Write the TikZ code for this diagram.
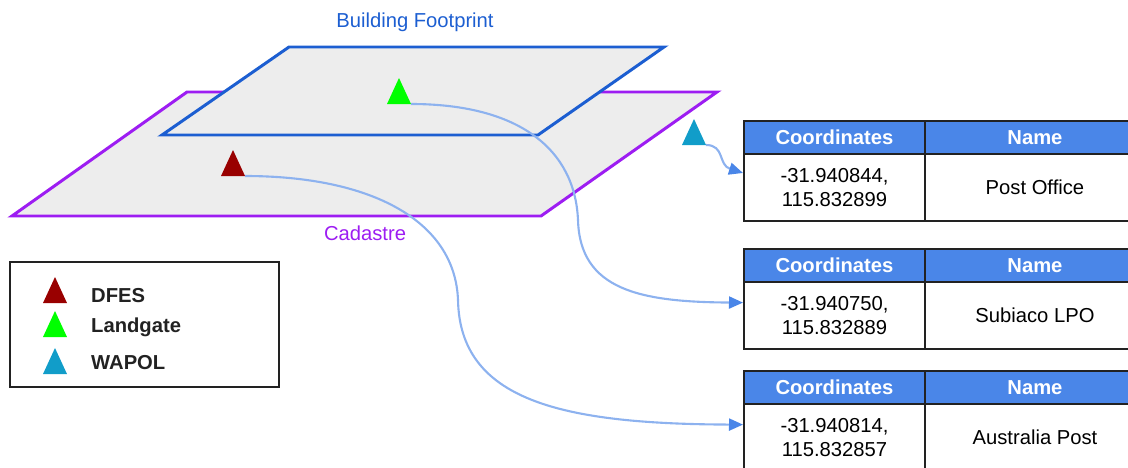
\documentclass[tikz,border=0pt]{standalone}
\usepackage{fontspec}
\setmainfont{Liberation Sans}
\usetikzlibrary{arrows.meta}

\definecolor{footblue}{HTML}{1C5ED1}
\definecolor{cadpurple}{HTML}{9D1DF2}
\definecolor{planegray}{HTML}{EDEDED}
\definecolor{dfesred}{HTML}{990000}
\definecolor{landgreen}{HTML}{00FF00}
\definecolor{wapolcyan}{HTML}{119DC9}
\definecolor{headblue}{HTML}{4A86E8}
\definecolor{linkblue}{HTML}{8DB2EF}
\definecolor{tableline}{HTML}{222222}

\tikzset{
	tri/.pic={\path[pic actions] (-0.24,0) -- (0.24,0) -- (0,0.52) -- cycle;
		\coordinate (-foot) at (0.24,0);},
	head/.style={draw=tableline, fill=headblue, text=white, font=\fontsize{11.5}{13.5}\selectfont\bfseries,
		minimum height=0.66cm, anchor=north west, inner sep=0pt, line width=1.1pt},
	cell/.style={draw=tableline, minimum height=1.34cm, anchor=north west, inner sep=0pt,
		align=center, line width=1.1pt},
	link/.style={draw=linkblue, line width=1.2pt, -{Triangle[length=0.28cm, width=0.24cm, color=headblue]}}
}

\begin{document}
\begin{tikzpicture}[font=\fontsize{11.5}{13.5}\selectfont]

	\useasboundingbox (0,0) rectangle (22.56,9.34);
	\clip (0,0) rectangle (22.56,9.34);

	% cadastre plane
	\draw[cadpurple, fill=planegray, line width=1.7pt] (3.74,7.50) -- (14.34,7.50) -- (10.82,5.02) -- (0.24,5.02) -- cycle;
	% building footprint plane
	\draw[footblue, fill=planegray, line width=1.7pt] (5.78,8.40) -- (13.28,8.40) -- (10.76,6.64) -- (3.24,6.64) -- cycle;

	% plane labels
	\node[text=footblue] (footlabel) at (8.30,8.90) {Building Footprint};
	\node[text=cadpurple] (cadlabel) at (7.30,4.68) {Cadastre};

	% markers
	\pic[fill=landgreen] (landgate) at (7.98,7.26) {tri};
	\pic[fill=dfesred] (dfes) at (4.66,5.82) {tri};
	\pic[fill=wapolcyan] (wapol) at (13.88,6.44) {tri};

	% tables
	\node[head, minimum width=3.62cm] (t1h1) at (14.86,6.94) {Coordinates};
	\node[head, minimum width=4.40cm] (t1h2) at (18.48,6.94) {Name};
	\node[cell, minimum width=3.62cm] (t1c1) at (14.86,6.28) {-31.940844,\\115.832899};
	\node[cell, minimum width=4.40cm] (t1c2) at (18.48,6.28) {Post Office};

	\node[head, minimum width=3.62cm] (t2h1) at (14.86,4.38) {Coordinates};
	\node[head, minimum width=4.40cm] (t2h2) at (18.48,4.38) {Name};
	\node[cell, minimum width=3.62cm] (t2c1) at (14.86,3.72) {-31.940750,\\115.832889};
	\node[cell, minimum width=4.40cm] (t2c2) at (18.48,3.72) {Subiaco LPO};

	\node[head, minimum width=3.62cm] (t3h1) at (14.86,1.94) {Coordinates};
	\node[head, minimum width=4.40cm] (t3h2) at (18.48,1.94) {Name};
	\node[cell, minimum width=3.62cm] (t3c1) at (14.86,1.28) {-31.940814,\\115.832857};
	\node[cell, minimum width=4.40cm] (t3c2) at (18.48,1.28) {Australia Post};

	% links
	\draw[link] (wapol-foot) .. controls (14.50,6.44) and (14.36,6.04) .. (t1c1.171);
	\draw[link] (landgate-foot) .. controls (10.40,7.26) and (11.50,6.34) .. (11.56,4.94)
		.. controls (11.60,3.54) and (12.80,3.30) .. (t2c1.172);
	\draw[link] (dfes-foot) .. controls (7.40,5.82) and (9.10,4.94) .. (9.16,3.34)
		.. controls (9.20,1.34) and (11.20,0.86) .. (t3c1.172);

	% legend
	\draw[tableline, line width=1.1pt] (0.20,4.10) rectangle (5.58,1.60);
	\pic[fill=dfesred] (legdfes) at (1.10,3.28) {tri};
	\pic[fill=landgreen] (legland) at (1.10,2.60) {tri};
	\pic[fill=wapolcyan] (legwapol) at (1.10,1.86) {tri};
	\node[anchor=west, text=tableline, font=\fontsize{11.5}{13.5}\selectfont\bfseries] (ldfes) at (1.70,3.42) {DFES};
	\node[anchor=west, text=tableline, font=\fontsize{11.5}{13.5}\selectfont\bfseries] (lland) at (1.70,2.80) {Landgate};
	\node[anchor=west, text=tableline, font=\fontsize{11.5}{13.5}\selectfont\bfseries] (lwapol) at (1.70,2.08) {WAPOL};
\end{tikzpicture}
\end{document}
